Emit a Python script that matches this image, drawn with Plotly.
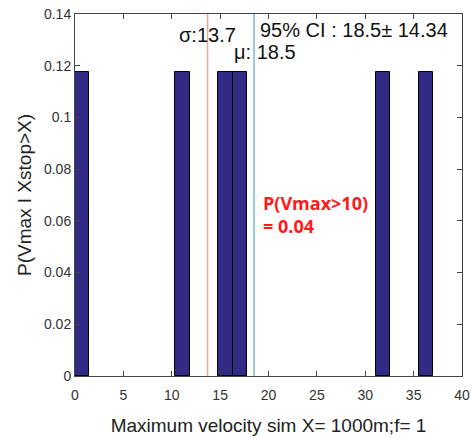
import plotly.graph_objects as go

bin_width = 37.05 / 25
bin_index = [0, 7, 10, 11, 21, 24]
probs = [0.1176, 0.1176, 0.1176, 0.1176, 0.1176, 0.1176]
sigma_val = 13.7
mu_val = 18.5
ci_half = 14.34
p_text = "P(Vmax>10)<br>= 0.04"

centers = [(i + 0.5) * bin_width for i in bin_index]

fig = go.Figure()
fig.add_trace(go.Bar(x=centers, y=probs, width=[bin_width] * len(centers),
                     marker=dict(color="#332A86", line=dict(color="black", width=1)),
                     showlegend=False))
fig.add_shape(type="line", x0=sigma_val, x1=sigma_val, y0=0, y1=0.14, xref="x", yref="y",
              line=dict(color="#F2A98C", width=1.5))
fig.add_shape(type="line", x0=mu_val, x1=mu_val, y0=0, y1=0.14, xref="x", yref="y",
              line=dict(color="#5AA5DE", width=1.2))

font_txt = dict(family="Liberation Sans, Arial", size=20, color="#111111")
fig.add_annotation(x=sigma_val, y=0.1319, text=f"σ:{sigma_val}", showarrow=False,
                   xanchor="center", yanchor="middle", font=font_txt)
fig.add_annotation(x=19.67, y=0.1253, text=f"μ: {mu_val}", showarrow=False,
                   xanchor="center", yanchor="middle", font=font_txt)
fig.add_annotation(x=18.9, y=0.1338, text=f"95% CI : {mu_val}± {ci_half}", showarrow=False,
                   xanchor="left", yanchor="middle", font=font_txt)
fig.add_annotation(x=19.2, y=0.0623, text=p_text, showarrow=False, align="left",
                   xanchor="left", yanchor="middle",
                   font=dict(family="Open Sans, Liberation Sans", size=18, color="#FF1A1A", weight="bold"))

axis_common = dict(showline=True, linecolor="#444444", linewidth=1, mirror="ticks",
                   ticks="inside", ticklen=5, tickcolor="#444444", showgrid=False,
                   zeroline=False, automargin=False,
                   tickfont=dict(family="Liberation Sans, Arial", size=14, color="#333333"))
fig.update_xaxes(range=[0, 40], dtick=5, tick0=0, ticklabelstandoff=6,
                 title=dict(text="Maximum velocity sim X= 1000m;f= 1",
                            font=dict(family="Liberation Sans, Arial", size=19, color="#222222"),
                            standoff=16),
                 **axis_common)
fig.update_yaxes(range=[0, 0.14], dtick=0.02, tick0=0,
                 title=dict(text="P(Vmax I Xstop>X)",
                            font=dict(family="Liberation Sans, Arial", size=19, color="#222222"),
                            standoff=7),
                 **axis_common)
fig.update_layout(width=472, height=440, margin=dict(l=75, r=10, t=14, b=64),
                  plot_bgcolor="white", paper_bgcolor="white", bargap=0)
fig.write_html("out.html")
